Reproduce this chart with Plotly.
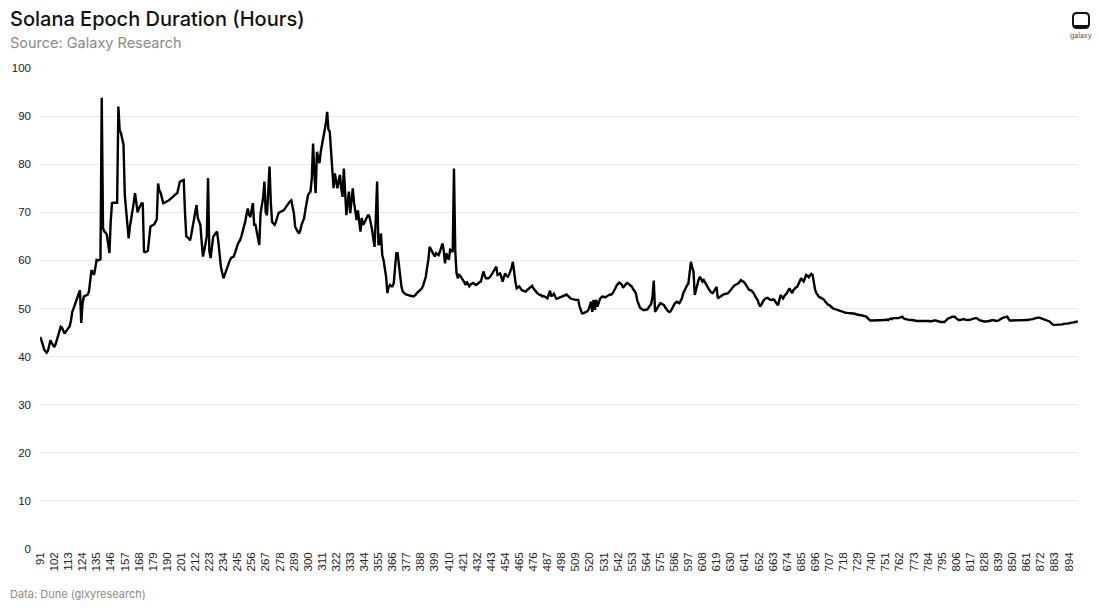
import plotly.graph_objects as go

first_epoch = 91
durations = [
    44.1, 43.0, 42.5, 41.5, 41.0, 40.8, 41.2, 42.5, 43.4, 42.8,
    42.3, 42.0, 42.6, 43.5, 44.5, 45.5, 46.2, 46.0, 45.3, 44.8,
    45.2, 45.5, 45.9, 46.3, 47.5, 49.3, 50.0, 50.8, 51.4, 52.2,
    53.0, 53.8, 47.0, 51.0, 52.5, 52.6, 52.7, 52.9, 53.5, 56.0,
    58.0, 57.5, 57.0, 58.5, 60.1, 60.0, 60.1, 60.2, 93.8, 66.7,
    66.0, 65.8, 65.3, 63.0, 61.5, 68.0, 71.9, 72.0, 72.0, 72.1,
    72.0, 92.0, 87.0, 86.5, 85.5, 84.0, 73.6, 70.0, 68.0, 64.6,
    67.0, 68.5, 69.8, 72.0, 74.0, 72.0, 70.0, 70.8, 71.5, 71.8,
    72.0, 61.8, 61.7, 61.8, 62.0, 64.5, 67.0, 67.2, 67.3, 67.5,
    68.0, 68.6, 76.0, 74.5, 74.0, 73.0, 71.9, 72.0, 72.2, 72.3,
    72.4, 72.6, 72.8, 73.0, 73.3, 73.6, 73.8, 74.0, 75.2, 76.4,
    76.5, 76.6, 76.7, 70.0, 65.0, 64.8, 64.5, 64.2, 65.5, 67.0,
    69.0, 70.5, 71.5, 68.8, 68.0, 67.4, 64.0, 60.8, 62.0, 63.9,
    65.0, 77.1, 62.0, 60.5, 62.5, 64.9, 65.3, 65.7, 66.0, 64.0,
    61.0, 58.7, 57.5, 56.3, 57.0, 57.8, 58.7, 59.2, 60.0, 60.5,
    60.7, 60.8, 61.5, 62.5, 63.2, 63.8, 64.2, 65.0, 66.0, 66.7,
    68.0, 69.5, 70.8, 69.5, 69.0, 70.5, 71.9, 67.4, 67.4, 66.0,
    64.5, 63.2, 69.8, 71.5, 73.0, 76.4, 70.0, 69.4, 74.0, 79.5,
    72.0, 68.0, 67.7, 67.4, 68.0, 69.0, 69.8, 70.0, 70.2, 70.3,
    70.4, 70.8, 71.2, 71.6, 71.9, 72.3, 72.5, 71.0, 69.8, 67.0,
    66.3, 66.0, 65.6, 66.2, 67.4, 68.0, 68.8, 70.5, 72.5, 73.5,
    74.0, 74.3, 77.1, 84.3, 78.0, 74.0, 82.6, 81.0, 80.2, 82.6,
    84.0, 86.1, 86.8, 88.5, 90.9, 87.2, 86.8, 82.0, 79.1, 75.0,
    78.1, 76.5, 75.0, 76.5, 77.8, 75.0, 73.2, 79.1, 73.0, 69.4,
    72.0, 74.3, 69.8, 72.5, 75.0, 72.0, 70.0, 68.4, 70.4, 68.0,
    66.0, 68.8, 67.4, 67.8, 68.5, 69.0, 69.5, 69.1, 68.0, 66.5,
    64.5, 62.8, 69.0, 76.4, 63.2, 63.5, 65.6, 61.1, 60.1, 58.0,
    56.6, 53.2, 54.5, 54.9, 54.6, 54.6, 55.3, 58.5, 61.5, 61.5,
    59.0, 56.6, 54.5, 53.5, 53.2, 53.0, 52.9, 52.8, 52.7, 52.6,
    52.6, 52.5, 52.6, 52.8, 53.2, 53.5, 53.8, 54.0, 54.2, 54.8,
    55.6, 56.6, 58.5, 60.1, 62.8, 62.3, 61.8, 61.2, 60.8, 61.5,
    61.3, 61.1, 61.8, 62.5, 63.5, 62.1, 59.4, 61.5, 60.5, 60.1,
    62.2, 62.0, 61.8, 79.1, 62.0, 57.3, 56.3, 57.0, 56.8, 56.3,
    56.0, 55.5, 54.9, 55.6, 55.0, 54.6, 55.0, 55.2, 55.3, 55.1,
    54.9, 55.0, 55.3, 55.5, 55.6, 56.5, 57.7, 56.8, 56.3, 56.3,
    56.3, 56.5, 56.8, 57.3, 57.8, 58.3, 58.7, 57.0, 57.2, 57.3,
    56.5, 55.6, 56.5, 57.3, 56.8, 56.6, 57.0, 57.7, 58.5, 59.7,
    57.0, 55.5, 54.2, 54.4, 54.6, 54.2, 53.8, 53.7, 53.6, 53.5,
    53.8, 54.0, 54.3, 54.5, 54.7, 54.2, 53.8, 53.5, 53.2, 53.0,
    52.8, 52.8, 52.5, 52.6, 52.5, 52.3, 52.1, 52.8, 53.7, 52.5,
    52.8, 53.1, 52.5, 52.0, 52.1, 52.2, 52.3, 52.5, 52.6, 52.7,
    52.8, 52.9, 52.6, 52.3, 52.1, 52.0, 51.9, 51.8, 51.8, 51.8,
    51.8, 50.5, 49.7, 49.0, 49.0, 49.1, 49.2, 49.4, 49.7, 50.5,
    51.4, 49.3, 51.8, 49.7, 51.8, 50.4, 51.5, 52.0, 52.3, 52.5,
    52.4, 52.3, 52.5, 52.7, 52.8, 52.9, 52.9, 53.2, 53.6, 54.2,
    54.8, 55.2, 55.4, 55.2, 55.0, 54.3, 54.6, 55.0, 55.3, 55.2,
    55.0, 54.8, 54.5, 54.0, 53.6, 53.2, 51.8, 51.0, 50.3, 50.0,
    49.8, 49.7, 49.7, 49.8, 49.8, 50.2, 50.7, 51.0, 52.5, 55.8,
    49.3, 49.8, 50.0, 50.6, 51.1, 51.0, 50.8, 50.7, 50.2, 49.8,
    49.5, 49.3, 49.4, 49.8, 50.4, 50.9, 51.2, 51.4, 51.2, 51.1,
    51.6, 52.1, 53.2, 53.8, 54.3, 54.8, 55.2, 57.5, 59.7, 58.5,
    57.7, 52.8, 54.0, 55.2, 56.0, 56.6, 56.1, 55.6, 55.9, 55.5,
    55.0, 54.5, 54.0, 53.5, 53.3, 53.2, 53.5, 54.0, 54.5, 52.1,
    52.3, 52.5, 52.6, 52.8, 53.0, 53.0, 53.1, 53.2, 53.5, 53.9,
    54.2, 54.5, 54.8, 55.0, 55.1, 55.2, 55.6, 55.9, 55.7, 55.6,
    55.3, 55.0, 54.5, 54.0, 53.8, 53.8, 53.5, 53.2, 52.6, 52.2,
    51.8, 51.0, 50.4, 50.8, 51.4, 51.8, 52.0, 52.2, 52.2, 52.0,
    51.8, 51.8, 51.9, 51.8, 51.3, 51.0, 50.7, 51.8, 52.8, 52.4,
    52.1, 52.6, 52.9, 53.2, 53.8, 54.2, 53.6, 53.2, 53.8, 54.2,
    54.4, 54.5, 55.0, 55.6, 56.3, 55.9, 55.6, 56.3, 57.0, 56.8,
    56.5, 56.9, 57.2, 57.0, 55.0, 53.8, 53.2, 52.8, 52.4, 52.3,
    52.1, 52.0, 51.8, 51.4, 51.0, 50.8, 50.7, 50.4, 50.2, 50.0,
    49.9, 49.8, 49.8, 49.7, 49.6, 49.5, 49.4, 49.3, 49.2, 49.1,
    49.1, 49.0, 49.0, 49.0, 49.0, 48.9, 48.9, 48.8, 48.7, 48.7,
    48.6, 48.6, 48.5, 48.4, 48.3, 48.3, 48.0, 47.7, 47.5, 47.5,
    47.5, 47.5, 47.5, 47.5, 47.5, 47.5, 47.5, 47.5, 47.5, 47.5,
    47.6, 47.7, 47.6, 47.8, 47.9, 47.8, 48.0, 48.0, 48.0, 47.9,
    48.0, 48.1, 48.2, 48.3, 48.0, 47.8, 47.8, 47.7, 47.6, 47.6,
    47.6, 47.6, 47.5, 47.5, 47.4, 47.4, 47.4, 47.5, 47.5, 47.4,
    47.4, 47.5, 47.4, 47.4, 47.4, 47.3, 47.4, 47.5, 47.5, 47.5,
    47.4, 47.3, 47.3, 47.2, 47.2, 47.2, 47.2, 47.5, 47.8, 48.0,
    48.0, 48.2, 48.3, 48.3, 48.3, 48.0, 47.8, 47.6, 47.6, 47.7,
    47.8, 47.8, 47.7, 47.6, 47.6, 47.6, 47.7, 47.8, 47.9, 48.0,
    48.0, 48.0, 47.7, 47.6, 47.5, 47.4, 47.3, 47.3, 47.3, 47.3,
    47.3, 47.4, 47.5, 47.6, 47.6, 47.5, 47.4, 47.4, 47.5, 47.7,
    47.8, 48.0, 48.1, 48.2, 48.3, 48.3, 47.8, 47.5, 47.5, 47.5,
    47.5, 47.5, 47.5, 47.5, 47.5, 47.6, 47.6, 47.6, 47.6, 47.6,
    47.6, 47.6, 47.7, 47.7, 47.7, 47.8, 47.9, 48.0, 48.1, 48.1,
    48.1, 48.0, 48.0, 47.9, 47.8, 47.7, 47.6, 47.4, 47.3, 47.0,
    46.8, 46.6, 46.6, 46.6, 46.6, 46.7, 46.7, 46.7, 46.7, 46.8,
    46.8, 46.8, 46.9, 46.9, 47.0, 47.0, 47.1, 47.1, 47.2, 47.2,
    47.3,
]
epochs = list(range(first_epoch, first_epoch + len(durations)))
tick_epochs = list(range(91, 895, 11))
tick_labels = [str(t) for t in tick_epochs]
y_ticks = list(range(0, 101, 10))

W, H = 1100, 611
L, R, T, B = 38, 22, 68, 62
pw, ph = W - L - R, H - T - B


def px(x):
    return (x - L) / pw


def py(y):
    return (H - B - y) / ph


fig = go.Figure()
fig.add_trace(go.Scatter(
    x=epochs, y=durations, mode="lines",
    line=dict(color="#000000", width=2.4),
    hoverinfo="x+y", showlegend=False,
))

fig.update_layout(
    width=W, height=H,
    margin=dict(l=L, r=R, t=T, b=B),
    paper_bgcolor="white", plot_bgcolor="white",
    font=dict(family="Liberation Sans, Arial, sans-serif", color="#222222"),
    xaxis=dict(
        range=[first_epoch - 0.2, epochs[-1] + 0.2],
        tickmode="array", tickvals=tick_epochs, ticktext=tick_labels,
        tickangle=-90, tickfont=dict(size=11.5, color="#222222"),
        showgrid=False, zeroline=False, showline=False, ticks="",
    ),
    yaxis=dict(
        range=[0, 100], tickmode="array", tickvals=y_ticks,
        tickfont=dict(size=11.5, color="#222222"),
        showgrid=True, gridcolor="#e9e9e9", gridwidth=1,
        zeroline=False, showline=False, ticks="", ticklabelstandoff=8,
    ),
)

annotations = [
    dict(text="Solana Epoch Duration (Hours)", x=px(6), y=py(19), xanchor="left", yanchor="middle",
         font=dict(family="Inter, sans-serif", size=20, color="#111111", weight=500)),
    dict(text="Source: Galaxy Research", x=px(6), y=py(42), xanchor="left", yanchor="middle",
         font=dict(family="Inter, sans-serif", size=14.5, color="#8a8a8a")),
    dict(text="Data: Dune (glxyresearch)", x=px(6), y=py(594), xanchor="left", yanchor="middle",
         font=dict(family="Inter, sans-serif", size=11, color="#8a8a8a")),
    dict(text="galaxy", x=px(1081), y=py(35), xanchor="center", yanchor="middle",
         font=dict(family="Inter, sans-serif", size=7, color="#555555")),
]
for a in annotations:
    a.update(xref="paper", yref="paper", showarrow=False)
fig.update_layout(annotations=annotations)

# galaxy logo: rounded square outline with a heavier bottom edge
x0, x1, y0, y1, r = 1073, 1089, 13, 28, 4
path = (f"M {px(x0 + r)},{py(y0)} L {px(x1 - r)},{py(y0)} Q {px(x1)},{py(y0)} {px(x1)},{py(y0 + r)} "
        f"L {px(x1)},{py(y1 - r)} Q {px(x1)},{py(y1)} {px(x1 - r)},{py(y1)} "
        f"L {px(x0 + r)},{py(y1)} Q {px(x0)},{py(y1)} {px(x0)},{py(y1 - r)} "
        f"L {px(x0)},{py(y0 + r)} Q {px(x0)},{py(y0)} {px(x0 + r)},{py(y0)} Z")
fig.add_shape(type="path", path=path, xref="paper", yref="paper",
              line=dict(color="#111111", width=2), fillcolor="rgba(0,0,0,0)")
fig.add_shape(type="rect", xref="paper", yref="paper",
              x0=px(x0 + 1), x1=px(x1 - 1), y0=py(28), y1=py(25),
              line=dict(width=0), fillcolor="#111111")

fig.write_html(
    "out.html",
    config={"displayModeBar": False},
    post_script="document.body.style.margin='0';document.body.style.overflow='hidden';",
)
